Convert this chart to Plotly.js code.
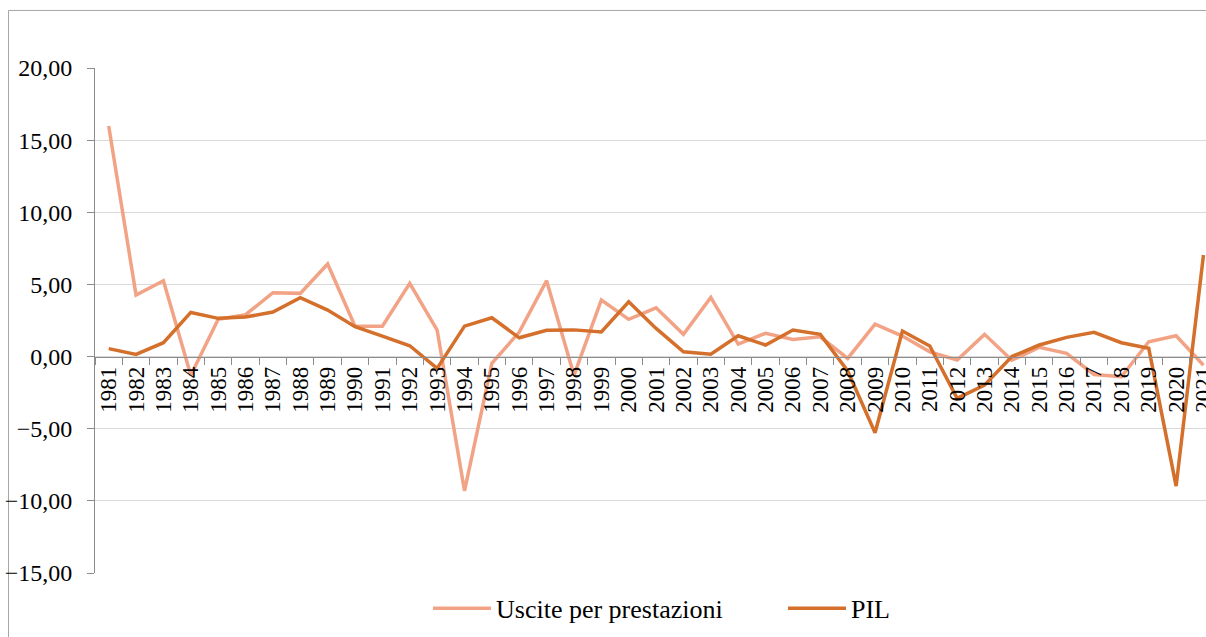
<!DOCTYPE html>
<html>
<head>
<meta charset="utf-8">
<script src="https://cdn.plot.ly/plotly-3.0.1.min.js"></script>
<style>html,body{margin:0;padding:0;background:#fff;overflow:hidden;}#chart{width:1206px;height:637px;}</style>
</head>
<body>
<div id="chart"></div>
<script>
const years = ["1981","1982","1983","1984","1985","1986","1987","1988","1989","1990",
  "1991","1992","1993","1994","1995","1996","1997","1998","1999","2000",
  "2001","2002","2003","2004","2005","2006","2007","2008","2009","2010",
  "2011","2012","2013","2014","2015","2016","2017","2018","2019","2020","2021"];

const uscitePerPrestazioni = [15.98, 4.26, 5.26, -1.3, 2.58, 2.9, 4.43, 4.38, 6.42, 2.11,
  2.11, 5.07, 1.84, -9.3, -0.47, 1.7, 5.26, -1.3, 3.92, 2.58,
  3.38, 1.54, 4.1, 0.87, 1.61, 1.19, 1.37, -0.13, 2.25, 1.42,
  0.33, -0.24, 1.54, -0.25, 0.64, 0.22, -1.24, -1.4, 1.03, 1.44, -0.6];

const pil = [0.55, 0.15, 0.96, 3.06, 2.65, 2.74, 3.09, 4.08, 3.22, 2.07,
  1.42, 0.75, -0.82, 2.11, 2.69, 1.30, 1.82, 1.85, 1.70, 3.80,
  1.95, 0.33, 0.17, 1.44, 0.80, 1.84, 1.54, -1.0, -5.28, 1.77,
  0.73, -2.9, -1.98, 0.0, 0.80, 1.33, 1.68, 0.96, 0.57, -8.98, 7.04];

const seriesNames = ["Uscite per prestazioni", "PIL"];
const yTickVals = [-15, -10, -5, 0, 5, 10, 15, 20];

const font = "'Times New Roman', 'Liberation Serif', 'DejaVu Serif', serif";

const traces = [
  {x: years, y: uscitePerPrestazioni, name: seriesNames[0], type: "scatter", mode: "lines",
   line: {color: "#F2A385", width: 3.5}, hoverinfo: "skip"},
  {x: years, y: pil, name: seriesNames[1], type: "scatter", mode: "lines",
   line: {color: "#D4702C", width: 3.5}, hoverinfo: "skip"}
];

const plotW = 1111, plotH = 504.7;
const layout = {
  width: 1206, height: 637,
  margin: {l: 95, r: 0, t: 68, b: 637 - 68 - plotH, pad: 0},
  paper_bgcolor: "#ffffff", plot_bgcolor: "#ffffff",
  separators: ",.",
  font: {family: font, color: "#000000"},
  showlegend: true,
  legend: {orientation: "h", x: (428 - 95) / plotW, xanchor: "left", y: (572.7 - 608) / plotH, yanchor: "middle",
           font: {family: font, size: 26, color: "#000"}, itemwidth: 58,
           entrywidth: 282, entrywidthmode: "pixels", bgcolor: "rgba(0,0,0,0)"},
  xaxis: {
    type: "category", range: [-0.5, -0.5 + plotW / 27.37],
    tickmode: "array", tickvals: years, ticktext: years,
    anchor: "free", position: 15 / 35, automargin: false,
    showline: true, linecolor: "#8c8c8c", linewidth: 1,
    ticks: "outside", ticklen: 7, tickcolor: "#8c8c8c", tickson: "boundaries",
    tickangle: -90, showgrid: false, zeroline: false,
    tickfont: {family: font, size: 23, color: "#000"}
  },
  yaxis: {
    range: [-15, 20], tickvals: yTickVals, tickformat: ".2f",
    automargin: false, showline: true, linecolor: "#8c8c8c", linewidth: 1,
    ticks: "outside", ticklen: 7, tickcolor: "#8c8c8c",
    showgrid: true, gridcolor: "#d9d9d9", gridwidth: 1, zeroline: false,
    ticklabelstandoff: 10,
    tickfont: {family: font, size: 24, color: "#000"}
  },
  shapes: [{
    type: "rect", xref: "paper", yref: "paper", layer: "below",
    x0: (8.5 - 95) / plotW, x1: 1.2, y0: -0.5, y1: 1 + (68 - 10.5) / plotH,
    line: {color: "#a6a6a6", width: 1}, fillcolor: "rgba(0,0,0,0)"
  }]
};

Plotly.newPlot("chart", traces, layout, {displayModeBar: false, staticPlot: true});
</script>
</body>
</html>
